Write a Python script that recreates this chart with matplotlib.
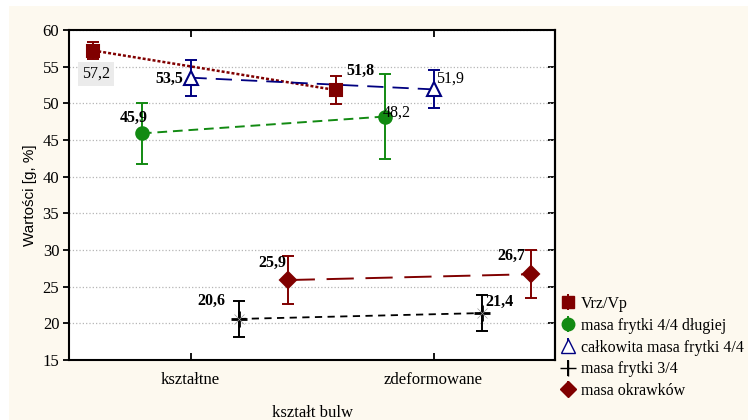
import matplotlib
matplotlib.use('Agg')
import matplotlib.pyplot as plt
from matplotlib.patches import Rectangle
import numpy as np

# categories and series
categories = ['kształtne', 'zdeformowane']
series_names = ['Vrz/Vp', 'masa frytki 4/4 długiej', 'całkowita masa frytki 4/4',
                'masa frytki 3/4', 'masa okrawków']
vrz = [57.2, 51.8]
vrz_err = [1.15, 1.95]
frytki44 = [45.9, 48.2]
frytki44_err = [4.15, 5.8]
calkowita = [53.5, 51.9]
calkowita_err = [2.45, 2.6]
frytki34 = [20.6, 21.4]
frytki34_err = [2.4, 2.45]
okrawki = [25.9, 26.7]
okrawki_err = [3.25, 3.3]

values = [vrz, frytki44, calkowita, frytki34, okrawki]
errors = [vrz_err, frytki44_err, calkowita_err, frytki34_err, okrawki_err]

# styles
offsets = [-0.4, -0.2, 0.0, 0.2, 0.4]
colors = ['#800000', '#128a12', '#000080', '#000000', '#800000']
markers = ['s', 'o', '^', '+', 'D']
mfc = ['#800000', '#128a12', 'white', '#000000', '#800000']
msizes = [9, 9, 10, 12, 8]
dashes = [(1.2, 0.8), (5, 3), (9, 5), (4, 3), (14, 6)]
lwidths = [1.8, 1.4, 1.3, 1.3, 1.4]

serif = 'Liberation Serif'
bg = '#fdf9ef'

fig = plt.figure(figsize=(7.48, 4.2), dpi=100)
fig.patch.set_facecolor('white')
fig.patches.append(Rectangle((9 / 748, 0), 1, 414 / 420, transform=fig.transFigure,
                             facecolor=bg, edgecolor='none', zorder=-10))

ax = fig.add_axes([69 / 748, 60 / 420, 486 / 748, 330 / 420])
ax.set_facecolor('white')
x = np.arange(len(categories))

handles = []
for i in range(len(values)):
    xs = x + offsets[i]
    ax.plot(xs, values[i], color=colors[i], lw=lwidths[i], dashes=dashes[i], zorder=2)
    ax.errorbar(xs, values[i], yerr=errors[i], fmt='none', ecolor=colors[i],
                elinewidth=1.4, capsize=4.5, capthick=1.4, zorder=3)
    ax.plot(xs, values[i], linestyle='none', marker=markers[i], color=colors[i],
            markerfacecolor=mfc[i], markeredgecolor=colors[i], markersize=msizes[i],
            markeredgewidth=1.5 if markers[i] != '+' else 2.0, zorder=4)
    h = ax.errorbar([], [], yerr=[], fmt=markers[i], color=colors[i], ecolor=colors[i],
                    markerfacecolor=mfc[i], markeredgecolor=colors[i],
                    markersize=msizes[i], elinewidth=1.4, capsize=4.5, capthick=1.4)
    handles.append(h)

# faint star around the 3/4 markers
ax.plot(x + offsets[3], frytki34, linestyle='none', marker='x', color='#9a9a9a',
        markersize=7, markeredgewidth=0.5, zorder=4)

def fmt(v):
    return ('%.1f' % v).replace('.', ',')

# value labels (value, x, y, ha, bold)
lab_pos = [
    (vrz[0], -0.39, 54.0, 'center', False),
    (vrz[1], 0.70, 54.45, 'center', True),
    (frytki44[0], -0.235, 48.0, 'center', True),
    (frytki44[1], 0.79, 48.7, 'left', False),
    (calkowita[0], -0.03, 53.3, 'right', True),
    (calkowita[1], 1.01, 53.3, 'left', False),
    (frytki34[0], 0.145, 23.1, 'right', True),
    (frytki34[1], 1.215, 22.9, 'left', True),
    (okrawki[0], 0.395, 28.2, 'right', True),
    (okrawki[1], 1.38, 29.2, 'right', True),
]
for k, (v, tx, ty, ha, bold) in enumerate(lab_pos):
    t = ax.text(tx, ty, fmt(v), ha=ha, va='center', fontsize=11.5, family=serif,
                fontweight='bold' if bold else 'normal', zorder=5)
    if k == 0:
        t.set_bbox(dict(facecolor='#ebebeb', edgecolor='none', pad=3))

ax.set_xlim(-0.5, 1.5)
ax.set_ylim(15, 60)
ax.set_yticks(np.arange(15, 61, 5))
ax.set_xticks(x)
ax.set_xticklabels(categories, family=serif, fontsize=12)
for lbl in ax.get_yticklabels():
    lbl.set_family(serif)
    lbl.set_fontsize(12)
ax.yaxis.grid(True, linestyle=':', color='#b5b5b5', lw=0.9)
ax.set_axisbelow(True)
ax.tick_params(axis='x', direction='in', top=True, bottom=True, length=5, width=1.3, pad=9)
ax.tick_params(axis='y', direction='out', left=True, right=False, length=4, width=1.3, pad=3)
ax2 = ax.secondary_yaxis('right')
ax2.set_yticks(np.arange(15, 61, 5))
ax2.tick_params(direction='in', length=5, width=1.3, labelright=False)
ax2.spines['right'].set_linewidth(1.5)
for s in ax.spines.values():
    s.set_linewidth(1.5)

ax.set_xlabel('kształt bulw', family=serif, fontsize=12, labelpad=12)
ax.set_ylabel('Wartości [g, %]', family='Liberation Sans', fontsize=11, labelpad=4)

leg = fig.legend(handles, series_names, loc='upper left', bbox_to_anchor=(560 / 748, 124 / 420),
                 frameon=False, prop={'family': serif, 'size': 11.5}, handlelength=1.0,
                 handletextpad=0.3, labelspacing=0.36, borderpad=0, borderaxespad=0)

fig.savefig('out.png', dpi=100, facecolor=fig.get_facecolor())
